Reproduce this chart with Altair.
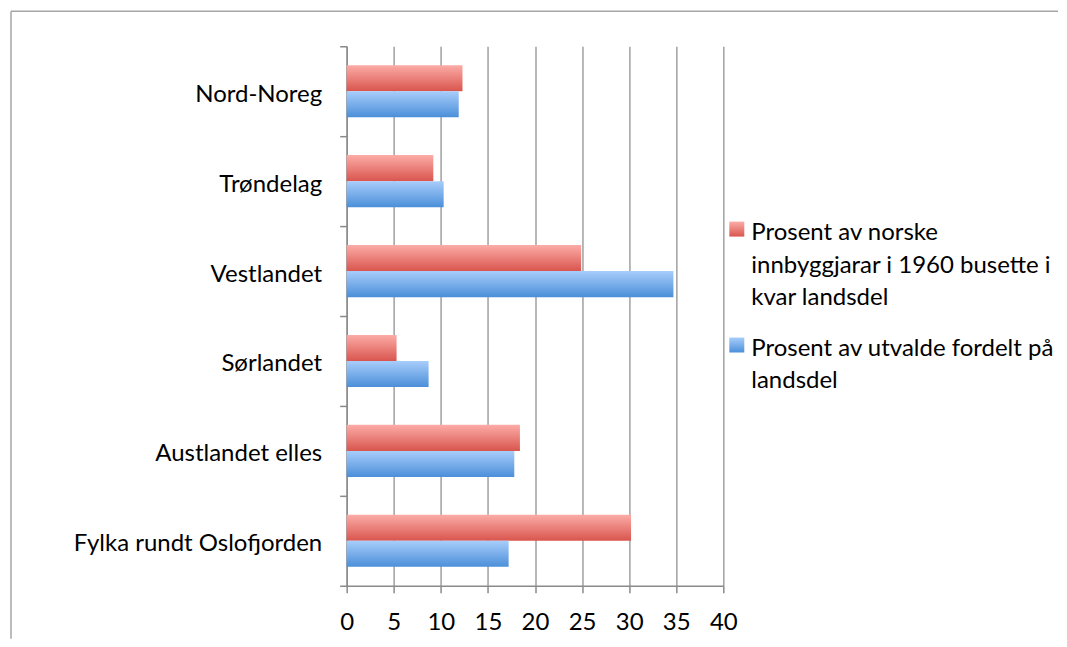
import altair as alt
import pandas as pd

# ---- data ----
categories = ["Nord-Noreg", "Trøndelag", "Vestlandet", "Sørlandet ",
              "Austlandet elles", "Fylka rundt Oslofjorden"]
series_names = ["Prosent av norske innbyggjarar i 1960 busette i kvar landsdel",
                "Prosent av utvalde fordelt på landsdel"]
pop_1960 = [12.3, 9.2, 24.9, 5.3, 18.4, 30.2]
selected = [11.9, 10.3, 34.7, 8.7, 17.8, 17.2]
x_tick_values = [0, 5, 10, 15, 20, 25, 30, 35, 40]
legend_lines = [["Prosent av norske", "innbyggjarar i 1960 busette i", "kvar landsdel"],
                ["Prosent av utvalde fordelt på", "landsdel"]]

# ---- styling ----
FONT = "Lato"
FS = 24
AXIS_GRAY = "#8a8a8a"
GRID_GRAY = "#a0a0a0"
FRAME_GRAY = "#a6a6a6"
PLOT_W, PLOT_H = 377, 540
LEG_W = 300
LINE_H = 32.5
LEG_TOP = 187  # px from plot top to first legend line

rows = []
for cat, a, b in zip(categories, pop_1960, selected):
    rows.append({"category": cat, "series": series_names[0], "value": a})
    rows.append({"category": cat, "series": series_names[1], "value": b})
df = pd.DataFrame(rows)


def grad(top, bottom):
    return alt.Gradient(gradient="linear",
                        stops=[alt.GradientStop(color=top, offset=0),
                               alt.GradientStop(color=bottom, offset=1)],
                        x1=0, x2=0, y1=0, y2=1)


red_grad = grad("#fcaca7", "#d9554e")
blue_grad = grad("#a8cdfb", "#4b8fd9")

# category bands fill the whole step (ticks at band edges); bars are inset via the offset scale
y_enc = alt.Y("category:N", sort=categories,
              scale=alt.Scale(domain=categories, paddingInner=0, paddingOuter=0),
              axis=alt.Axis(title=None, labelFont=FONT, labelFontSize=FS, labelColor="black",
                            labelPadding=18, labelLimit=400, labelOffset=3, tickBand="extent",
                            tickSize=7, tickColor=AXIS_GRAY, tickWidth=1.5, domainColor=AXIS_GRAY,
                            domainWidth=1.5, minExtent=334, maxExtent=334, grid=False))
yoff = alt.YOffset("series:N", sort=series_names,
                   scale=alt.Scale(domain=series_names, paddingInner=0, paddingOuter=0.724))
x_enc = alt.X("value:Q", scale=alt.Scale(domain=[0, 40], nice=False, zero=True),
              axis=alt.Axis(values=x_tick_values, title=None, grid=True, gridColor=GRID_GRAY,
                            gridWidth=1.5, domainColor=AXIS_GRAY, domainWidth=1.5,
                            tickColor=AXIS_GRAY, tickWidth=1.5, tickSize=7,
                            labelFont=FONT, labelFontSize=FS, labelColor="black",
                            labelPadding=18, labelFlush=False))

base = alt.Chart(df).encode(y=y_enc, yOffset=yoff, x=x_enc)
red = base.mark_bar(color=red_grad).transform_filter(alt.datum.series == series_names[0])
blue = base.mark_bar(color=blue_grad).transform_filter(alt.datum.series == series_names[1])

# frame around the whole figure (top and left edges visible in the reference)
one = pd.DataFrame({"k": [0]})
frame_top = alt.Chart(one).mark_rule(color=FRAME_GRAY, strokeWidth=1.5).encode(
    x=alt.value(-336), x2=alt.value(712), y=alt.value(-35))
frame_left = alt.Chart(one).mark_rule(color=FRAME_GRAY, strokeWidth=1.5).encode(
    x=alt.value(-336), y=alt.value(-35), y2=alt.value(593))

main = alt.layer(red, blue, frame_top, frame_left).properties(width=PLOT_W, height=PLOT_H)

# ---- custom legend panel ----
leg_rows, sym_rows = [], []
slot = 0.0
for name, lines in zip(series_names, legend_lines):
    sym_rows.append({"series": name, "slot": slot})
    for i, line in enumerate(lines):
        leg_rows.append({"series": name, "text": line, "slot": slot + i})
    slot += len(lines) + 0.57

leg_y_scale = alt.Scale(domain=[-LEG_TOP / LINE_H, (PLOT_H - LEG_TOP) / LINE_H], reverse=True)

leg_text = alt.Chart(pd.DataFrame(leg_rows)).mark_text(
    align="left", baseline="middle", font=FONT, fontSize=FS, color="black"
).encode(x=alt.value(22), y=alt.Y("slot:Q", scale=leg_y_scale, axis=None), text="text:N")

sym_df = pd.DataFrame(sym_rows)
sym_red = alt.Chart(sym_df).mark_square(size=225, color=red_grad, opacity=1, yOffset=-4).encode(
    x=alt.value(7.5), y=alt.Y("slot:Q", scale=leg_y_scale, axis=None)
).transform_filter(alt.datum.series == series_names[0])
sym_blue = alt.Chart(sym_df).mark_square(size=225, color=blue_grad, opacity=1, yOffset=-4).encode(
    x=alt.value(7.5), y=alt.Y("slot:Q", scale=leg_y_scale, axis=None)
).transform_filter(alt.datum.series == series_names[1])

legend_panel = alt.layer(sym_red, sym_blue, leg_text).properties(width=LEG_W, height=PLOT_H)

chart = alt.hconcat(main, legend_panel, spacing=6, bounds="flush").properties(
    padding={"left": 2, "top": 2, "right": 0, "bottom": 0},
    background="white",
).configure_view(stroke=None)

chart.save("out.html", embed_options={"renderer": "svg", "actions": False})
